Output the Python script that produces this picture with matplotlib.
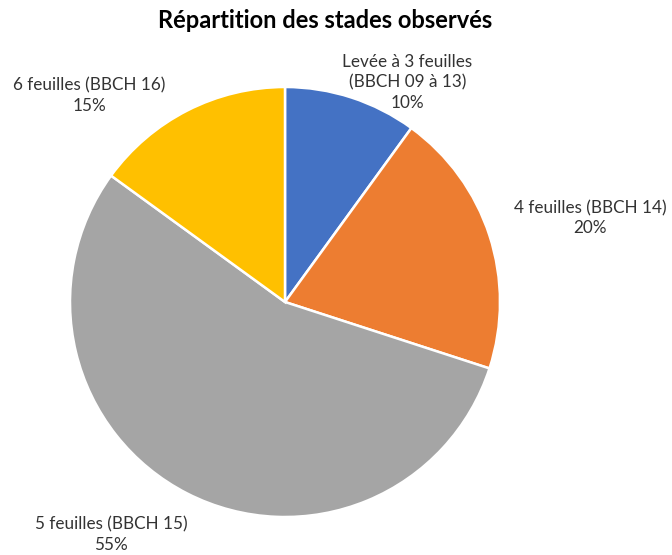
import matplotlib
matplotlib.use("Agg")
import matplotlib.pyplot as plt

plt.rcParams['font.family'] = ['Lato', 'DejaVu Sans']

stades = ["Levée à 3 feuilles\n(BBCH 09 à 13)", "4 feuilles (BBCH 14)",
          "5 feuilles (BBCH 15)", "6 feuilles (BBCH 16)"]
parts = [10, 20, 55, 15]
couleurs = ["#4472C4", "#ED7D31", "#A5A5A5", "#FFC000"]

# label centres, in pie radius units
label_pos = [(0.57, 1.02), (1.42, 0.39), (-0.81, -1.08), (-0.91, 0.96)]

W, H = 672, 555
cx, cy, r = 285, 302, 215
fig = plt.figure(figsize=(W / 100, H / 100), dpi=100)
ax = fig.add_axes([(cx - r) / W, (H - cy - r) / H, 2 * r / W, 2 * r / H])

ax.pie(parts, colors=couleurs, startangle=90, counterclock=False,
       radius=1, wedgeprops=dict(edgecolor="white", linewidth=1.8))
ax.set_xlim(-1, 1)
ax.set_ylim(-1, 1)

for lab, p, (x, y) in zip(stades, parts, label_pos):
    ax.text(x, y, f"{lab}\n{p}%", ha="center", va="center", fontsize=12.3,
            color="#333333", linespacing=1.35, clip_on=False)

fig.text(325 / W, 1 - 20 / H, "Répartition des stades observés",
         ha="center", va="center", fontsize=17, fontweight="bold", color="black")

fig.savefig("out.png", dpi=100)
